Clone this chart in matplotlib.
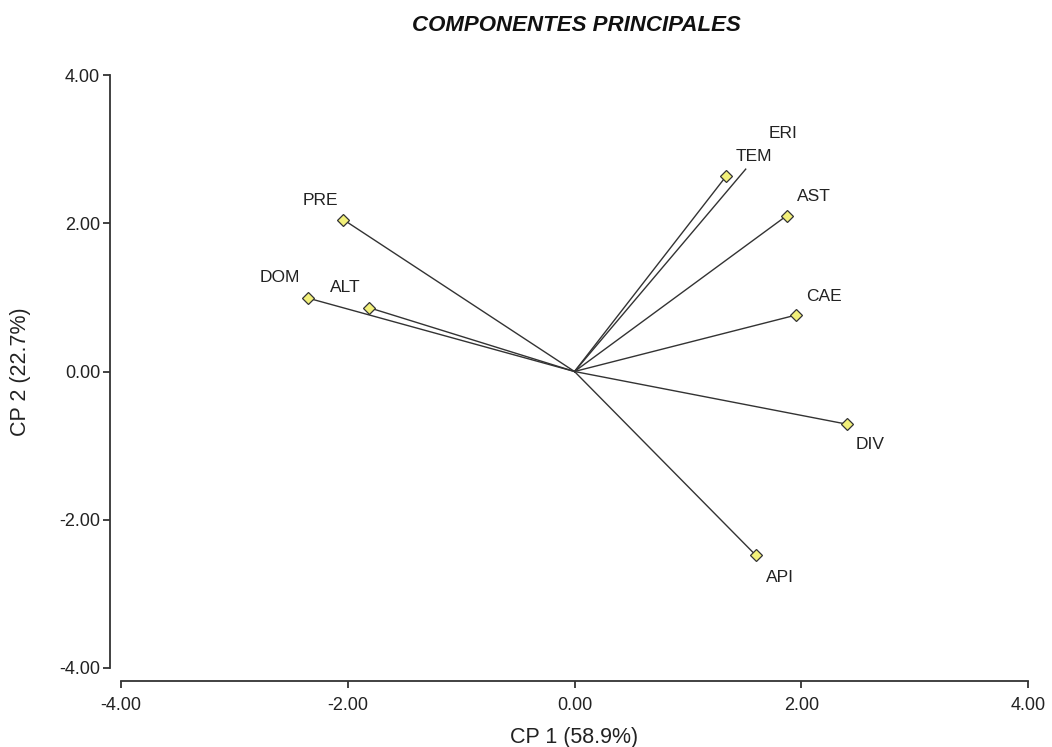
import matplotlib
matplotlib.use("Agg")
import matplotlib.pyplot as plt

# Data
variables = ["PRE", "DOM", "ALT", "TEM", "ERI", "AST", "CAE", "DIV", "API"]
cp1 = [-2.04, -2.35, -1.81, 1.34, 1.51, 1.87, 1.95, 2.40, 1.60]
cp2 = [2.05, 0.99, 0.86, 2.64, 2.73, 2.10, 0.76, -0.71, -2.48]
has_marker = [True, True, True, True, False, True, True, True, True]

ticks = [-4.0, -2.0, 0.0, 2.0, 4.0]
tick_labels = ["-4.00", "-2.00", "0.00", "2.00", "4.00"]

# label offsets in pixels (layout, not data)
label_offsets = {
    "PRE": (-23, 19), "DOM": (-28, 21), "ALT": (-24, 20), "TEM": (27, 19),
    "ERI": (37, 36), "AST": (27, 19), "CAE": (28, 19), "DIV": (24, -20),
    "API": (24, -22),
}

plt.rcParams['font.family'] = ['Liberation Sans', 'DejaVu Sans']

fig = plt.figure(figsize=(10.52, 7.47), dpi=100)
ax = fig.add_axes([121/1052, (747-668)/747, 907/1052, 593/747])
ax.set_xlim(-4, 4)
ax.set_ylim(-4, 4)

for name, x, y, m in zip(variables, cp1, cp2, has_marker):
    ax.plot([0, x], [0, y], color="#333333", lw=1.0, zorder=2)
    if m:
        ax.plot(x, y, marker="D", ms=6, mfc="#f2f07a", mec="#333333", mew=0.9,
                ls="none", zorder=3)
    dx, dy = label_offsets[name]
    ax.annotate(name, (x, y), xytext=(dx * 0.72, dy * 0.72), textcoords="offset points",
                ha="center", va="center", fontsize=12.5, color="#222222")

for s in ["top", "right"]:
    ax.spines[s].set_visible(False)
ax.spines["left"].set_position(("outward", 8))
ax.spines["bottom"].set_position(("outward", 9))
ax.spines["left"].set_bounds(-4, 4)
ax.spines["bottom"].set_bounds(-4, 4)
for s in ["left", "bottom"]:
    ax.spines[s].set_linewidth(1.3)
    ax.spines[s].set_color("#333333")

ax.set_xticks(ticks)
ax.set_xticklabels(tick_labels)
ax.set_yticks(ticks)
ax.set_yticklabels(tick_labels)
ax.tick_params(axis="both", direction="out", length=5, width=1.3, color="#333333",
               labelsize=13, labelcolor="#222222", pad=2)
ax.tick_params(axis="x", pad=7)

ax.set_xlabel("CP 1 (58.9%)", fontsize=15.5, color="#222222", labelpad=9)
ax.set_ylabel("CP 2 (22.7%)", fontsize=15.5, color="#222222", labelpad=20)
fig.text(0.548, 0.966, "COMPONENTES PRINCIPALES", ha="center", va="center",
         fontsize=16, fontweight="bold", fontstyle="italic", color="#111111")

fig.savefig("out.png", dpi=100)
